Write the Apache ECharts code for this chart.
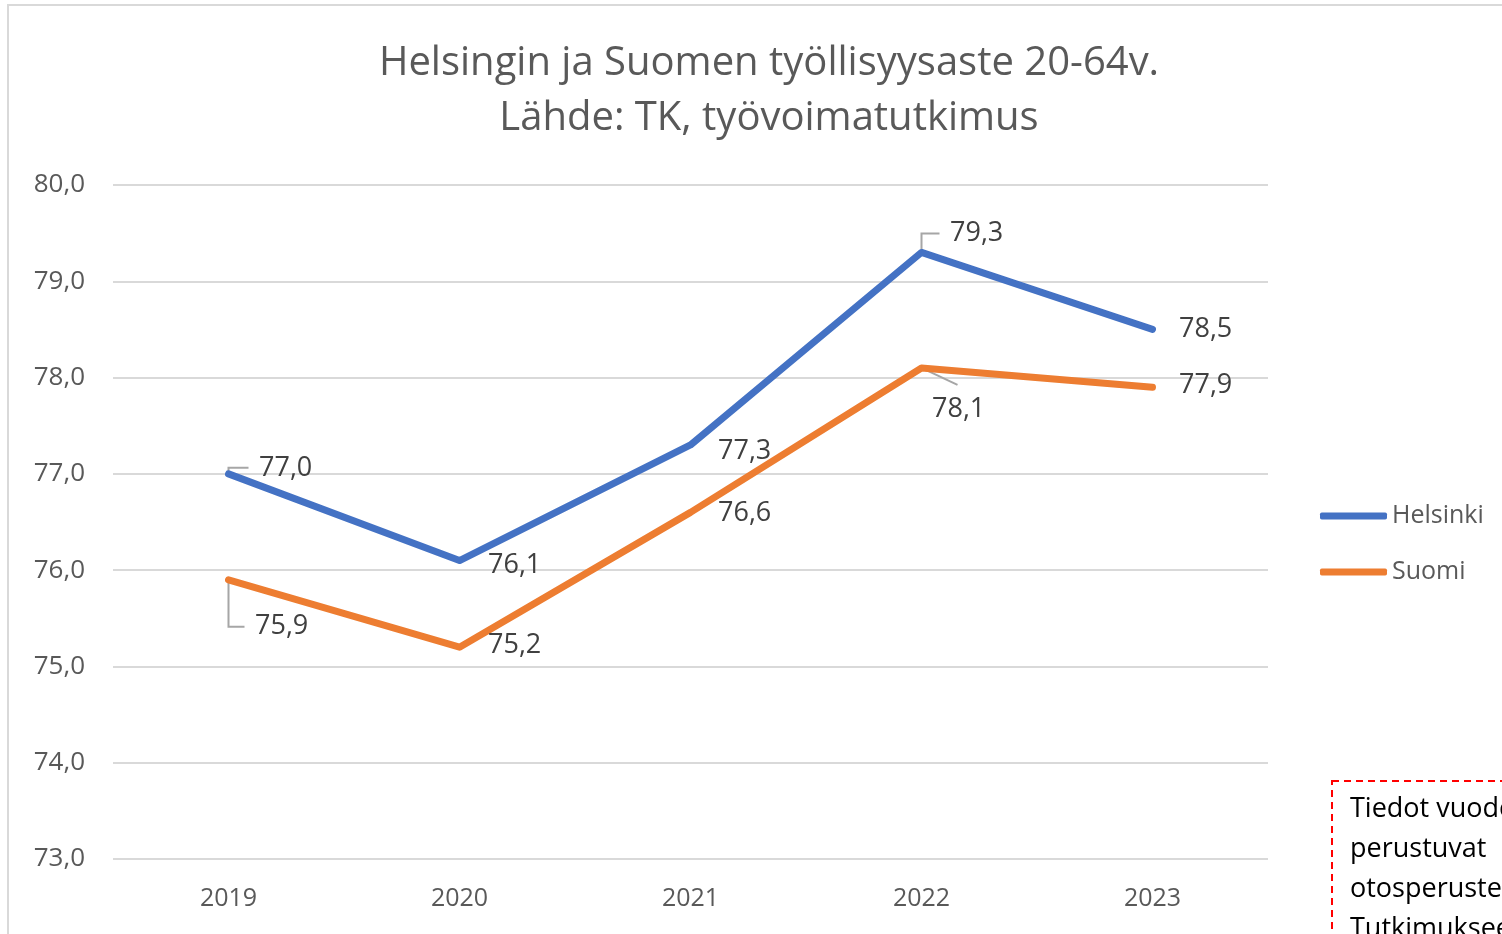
<!DOCTYPE html>
<html>
<head>
<meta charset="utf-8">
<script src="https://cdn.jsdelivr.net/npm/echarts@6/dist/echarts.min.js"></script>
<style>
  html, body { margin: 0; padding: 0; background: #fff; }
  #chart { width: 1502px; height: 934px; }
</style>
</head>
<body>
<div id="chart"></div>
<script>
// data
const years = ['2019', '2020', '2021', '2022', '2023'];
const helsinki = [77.0, 76.1, 77.3, 79.3, 78.5];
const suomi = [75.9, 75.2, 76.6, 78.1, 77.9];
const yMin = 73;
const yMax = 80;

// where the data labels sit, relative to their point (layout only)
const helsinkiLabelOffsets = [[30, -6], [28, 5], [27, 6], [28, -19], [26, 0]];
const suomiLabelOffsets = [[26, 47], [28, -2], [27, 1], [10, 41], [26, -2]];
// leader line kind per point: null = none, 'elbow' = bent, 'straight'
const helsinkiLeader = ['elbow', null, null, 'elbow', null];
const suomiLeader = ['elbow', null, null, 'straight', null];

const FONT = '"Open Sans", "Liberation Sans", sans-serif';
const fmt = v => v.toFixed(1).replace('.', ',');

function labelLayoutFor(offsets) {
    return params => ({ dx: offsets[params.dataIndex][0], dy: offsets[params.dataIndex][1] });
}

function lineSeries(name, values, color, offsets) {
    return {
        name: name,
        type: 'line',
        data: values,
        symbol: 'circle',
        symbolSize: 1,
        showSymbol: true,
        itemStyle: { color: color },
        lineStyle: { width: 7, color: color, cap: 'round', join: 'round' },
        label: {
            show: true, position: 'right', distance: 0,
            fontFamily: FONT, fontSize: 27, color: '#404040',
            formatter: p => fmt(p.value)
        },
        labelLayout: labelLayoutFor(offsets),
        z: 3
    };
}

const chart = echarts.init(document.getElementById('chart'));
chart.setOption({
    backgroundColor: '#fff',
    animation: false,
    title: {
        text: 'Helsingin ja Suomen työllisyysaste 20-64v.\nLähde: TK, työvoimatutkimus',
        left: 764,
        top: 31,
        textAlign: 'center',
        textStyle: {
            fontFamily: FONT,
            fontSize: 40,
            fontWeight: 'normal',
            color: '#595959',
            lineHeight: 55
        }
    },
    legend: {
        orient: 'vertical',
        left: 1320,
        top: 503,
        padding: 0,
        icon: 'roundRect',
        itemWidth: 67,
        itemHeight: 7,
        itemGap: 30,
        textStyle: { fontFamily: FONT, fontSize: 25, color: '#595959', lineHeight: 26 }
    },
    grid: { left: 113, right: 234, top: 185, bottom: 75 },
    xAxis: {
        type: 'category',
        data: years,
        boundaryGap: true,
        axisLine: { show: false },
        axisTick: { show: false },
        axisLabel: { fontFamily: FONT, fontSize: 25, color: '#595959', margin: 27 }
    },
    yAxis: {
        type: 'value',
        min: yMin,
        max: yMax,
        interval: 1,
        axisLine: { show: false },
        axisTick: { show: false },
        splitLine: { lineStyle: { color: '#d9d9d9', width: 2 } },
        axisLabel: {
            fontFamily: FONT, fontSize: 26, color: '#595959', margin: 28,
            formatter: v => fmt(v)
        }
    },
    series: [
        lineSeries('Helsinki', helsinki, '#4472C4', helsinkiLabelOffsets),
        lineSeries('Suomi', suomi, '#ED7D31', suomiLabelOffsets)
    ],
    graphic: [
        {
            type: 'rect',
            shape: { x: 8, y: 5, width: 1520, height: 960 },
            style: { fill: 'none', stroke: '#d9d9d9', lineWidth: 2 },
            silent: true
        },
        {
            type: 'rect',
            shape: { x: 1332, y: 781, width: 320, height: 300 },
            style: { fill: 'none', stroke: '#ff0000', lineWidth: 2, lineDash: [7, 5] },
            silent: true
        },
        {
            type: 'text',
            x: 1350,
            y: 789,
            style: {
                text: 'Tiedot vuodelta\nperustuvat\notosperusteiseen\nTutkimukseen',
                fontFamily: FONT,
                fontSize: 27,
                lineHeight: 40,
                fill: '#000'
            },
            silent: true
        }
    ]
});

// Excel-style leader lines from each moved label back to its point
function leaderLines(values, offsets, leaders) {
    const out = [];
    values.forEach((v, i) => {
        const kind = leaders[i];
        if (!kind) return;
        const p = chart.convertToPixel({ gridIndex: 0 }, [i, v]);
        const dx = offsets[i][0], dy = offsets[i][1];
        let pts;
        if (kind === 'elbow') {
            pts = [[p[0], p[1]], [p[0], p[1] + dy], [p[0] + dx - 10, p[1] + dy]];
        } else {
            pts = [[p[0], p[1]], [p[0] + dx + 26, p[1] + dy - 24]];
        }
        out.push({
            type: 'polyline',
            shape: { points: pts },
            style: { stroke: '#a6a6a6', lineWidth: 2, fill: null },
            z: 2,
            silent: true
        });
    });
    return out;
}

chart.setOption({
    graphic: [].concat(
        chart.getOption().graphic[0].elements.map(e => ({ id: e.id })),
        leaderLines(helsinki, helsinkiLabelOffsets, helsinkiLeader),
        leaderLines(suomi, suomiLabelOffsets, suomiLeader)
    )
});
</script>
</body>
</html>
